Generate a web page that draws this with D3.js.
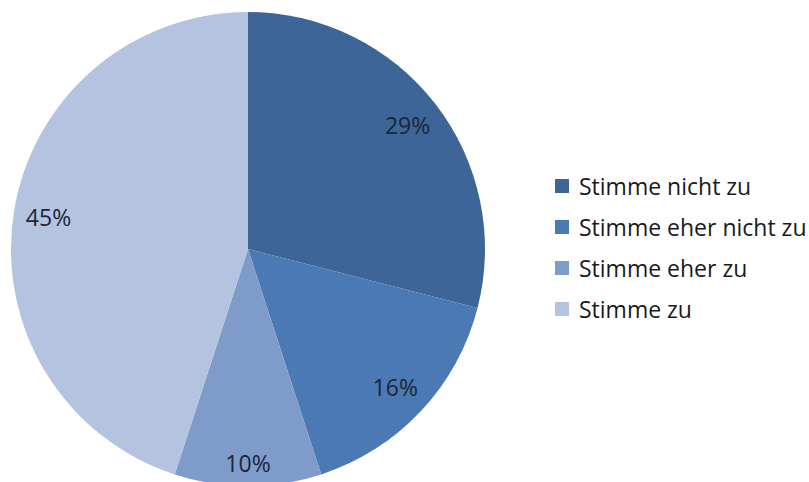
<!DOCTYPE html>
<html>
<head>
<meta charset="utf-8">
<script src="https://cdn.jsdelivr.net/npm/d3@7"></script>
<style>
  html, body { margin: 0; padding: 0; background: #fff; }
  svg { display: block; }
</style>
</head>
<body>
<svg id="chart" width="809" height="482"></svg>
<script>
// Survey answers and their shares (percent)
const categories = ["Stimme nicht zu", "Stimme eher nicht zu", "Stimme eher zu", "Stimme zu"];
const values = [29, 16, 10, 45];
const colors = ["#3e6597", "#4a79b4", "#7f9bc9", "#b4c3df"];

const svg = d3.select("#chart");
const cx = 248, cy = 249, radius = 237;
const fontFamily = "'Open Sans', sans-serif";

const data = categories.map((c, i) => ({ category: c, value: values[i] }));

const pie = d3.pie().value(d => d.value).sort(null);
const arcs = pie(data);
const arc = d3.arc().innerRadius(0).outerRadius(radius);

const g = svg.append("g").attr("transform", `translate(${cx},${cy})`);

g.selectAll("path.slice")
  .data(arcs)
  .join("path")
  .attr("class", "slice")
  .attr("d", arc)
  .attr("fill", (d, i) => colors[i])
  .attr("stroke", "none");

// Percentage labels placed near the outer edge of each slice
function labelPos(d) {
  const a = (d.startAngle + d.endAngle) / 2;
  const span = d.endAngle - d.startAngle;
  const r = span < 0.8 ? 214 : 202;
  return [Math.sin(a) * r, -Math.cos(a) * r];
}
g.selectAll("text.pct")
  .data(arcs)
  .join("text")
  .attr("class", "pct")
  .attr("x", d => labelPos(d)[0])
  .attr("y", d => labelPos(d)[1])
  .attr("text-anchor", "middle")
  .attr("dominant-baseline", "central")
  .attr("font-family", fontFamily)
  .attr("font-size", 23)
  .attr("fill", "#1c2638")
  .text(d => d3.format(".0f")(d.data.value) + "%");

// Legend
const legend = svg.append("g").attr("transform", "translate(555,186)");
const rowStep = 41;
const rows = legend.selectAll("g.row")
  .data(categories)
  .join("g")
  .attr("class", "row")
  .attr("transform", (d, i) => `translate(0,${i * rowStep})`);

rows.append("rect")
  .attr("x", 0).attr("y", -7)
  .attr("width", 14).attr("height", 14)
  .attr("fill", (d, i) => colors[i]);

rows.append("text")
  .attr("x", 24).attr("y", 0)
  .attr("dominant-baseline", "central")
  .attr("font-family", fontFamily)
  .attr("font-size", 23)
  .attr("fill", "#1a1a1a")
  .text(d => d);
</script>
</body>
</html>
